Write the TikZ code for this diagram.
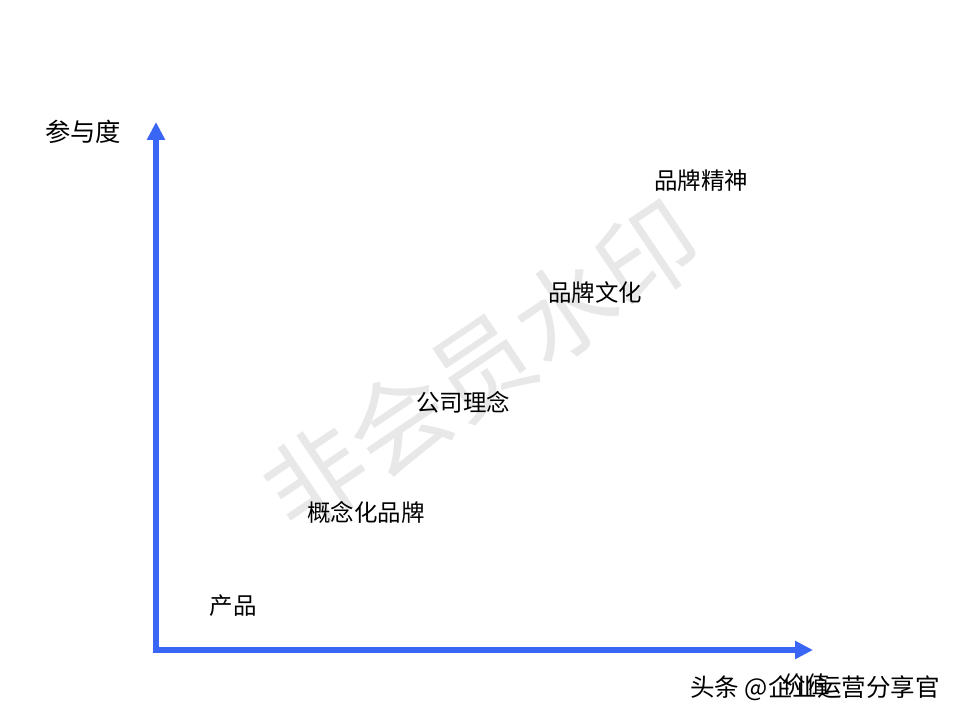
\documentclass[tikz,border=0pt]{standalone}
\usepackage{fontspec}
\setmainfont{Noto Sans CJK SC}
\newfontfamily\cjk{Noto Sans CJK SC}
\usetikzlibrary{arrows.meta}
\definecolor{axisblue}{RGB}{58,102,246}
\definecolor{wmgray}{RGB}{232,232,232}
\tikzset{
  axisline/.style={line width=4.5pt, draw=axisblue, -{Triangle[length=13.5pt,width=13pt]}},
  lbl/.style={font=\cjk\fontsize{17.6pt}{19pt}\selectfont, text=black, inner sep=0pt},
  ylbl/.style={font=\cjk\fontsize{19pt}{21pt}\selectfont, text=black, inner sep=0pt},
  wm/.style={font=\cjk\fontsize{75pt}{77pt}\selectfont, text=wmgray, inner sep=0pt},
  credit/.style={font=\cjk\fontsize{18.4pt}{20pt}\selectfont, text=black, inner sep=0pt}
}
\begin{document}
\begin{tikzpicture}[x=0.75pt,y=-0.75pt]
\useasboundingbox (0,0) rectangle (960,720);
\fill[white] (0,0) rectangle (960,720);
% background watermark
\node[wm, rotate=34] (wmark) at (482,366) {非会员水印};
% axes
\coordinate (origin) at (156,650);
\coordinate (ytip) at (156,122);
\coordinate (xtip) at (813,650);
\draw[axisline] ([yshift=-2.25pt]origin) -- (ytip);
\draw[axisline] ([xshift=-2.25pt]origin) -- (xtip);
% labels
\node[ylbl] (ylabel) at (83,132) {参与度};
\node[lbl] (xlabel) at (806,685) {价值};
\node[lbl] (p1) at (233,606) {产品};
\node[lbl] (p2) at (366,512) {概念化品牌};
\node[lbl] (p3) at (463,402) {公司理念};
\node[lbl] (p4) at (595,293) {品牌文化};
\node[lbl] (p5) at (701,181) {品牌精神};
% credit watermark
\node[credit] (cred) at (815,688) {头条 @企业运营分享官};
\end{tikzpicture}
\end{document}
